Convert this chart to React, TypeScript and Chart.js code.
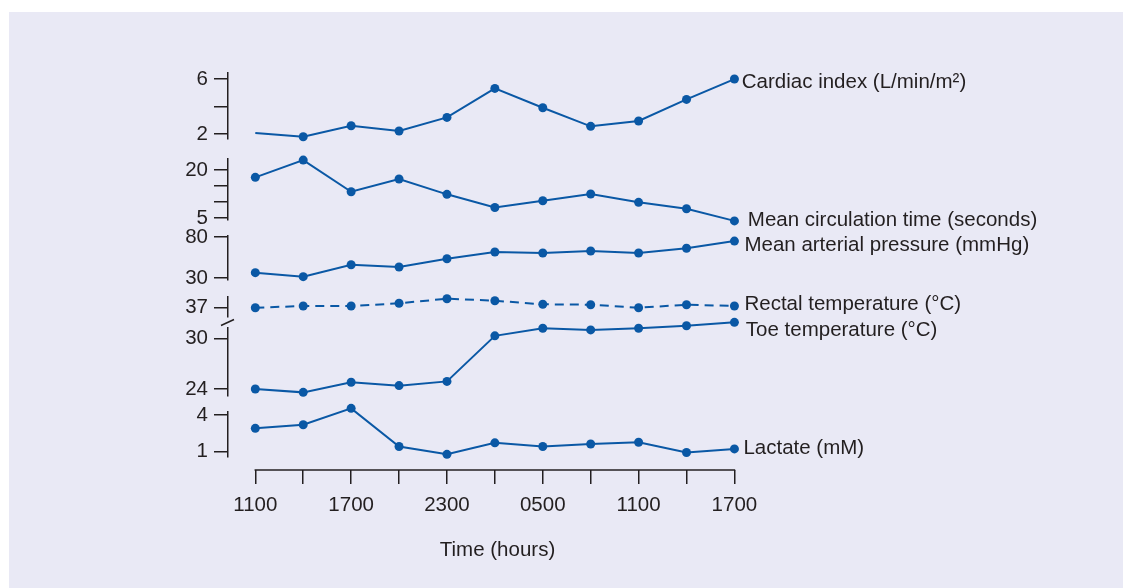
import React, { useEffect, useRef } from 'react';
import { Chart, registerables } from 'chart.js';

Chart.register(...registerables);

// ---------- data ----------
const times = ['1100', '1400', '1700', '2000', '2300', '0200', '0500', '0800', '1100', '1400', '1700'];

const cardiacIndex = [2.07, 1.8, 2.6, 2.22, 3.21, 5.32, 3.91, 2.56, 2.95, 4.52, 6.0];
const circulationTime = [17.7, 23.1, 13.2, 17.2, 12.4, 8.3, 10.4, 12.5, 9.9, 7.9, 4.1];
const arterialPressure = [36.5, 31.6, 46.2, 43.4, 53.5, 61.7, 60.5, 62.9, 60.5, 66.2, 75.0];
const rectalTemp = [36.96, 37.13, 37.13, 37.4, 37.86, 37.66, 37.3, 37.26, 36.96, 37.26, 37.13];
const toeTemp = [24.0, 23.6, 24.8, 24.4, 24.9, 30.3, 31.2, 31.0, 31.2, 31.5, 31.9];
const lactate = [2.9, 3.2, 4.55, 1.4, 0.75, 1.7, 1.4, 1.6, 1.75, 0.9, 1.2];

const seriesLabels = [
  'Cardiac index (L/min/m²)',
  'Mean circulation time (seconds)',
  'Mean arterial pressure (mmHg)',
  'Rectal temperature (°C)',
  'Toe temperature (°C)',
  'Lactate (mM)',
];

const cardiacTicks = [2, 4, 6];
const cardiacTickLabels = ['2', '', '6'];
const circTicks = [5, 10, 15, 20];
const circTickLabels = ['5', '', '', '20'];
const mapTicks = [30, 80];
const mapTickLabels = ['30', '80'];
const rectalTicks = [37];
const rectalTickLabels = ['37'];
const toeTicks = [24, 30];
const toeTickLabels = ['24', '30'];
const lactateTicks = [1, 4];
const lactateTickLabels = ['1', '4'];

// ---------- style / layout ----------
const BLUE = '#0a58a5';
const INK = '#231f20';
const BG = '#e9e9f5';
const FONT_FAMILY = "'Liberation Sans', Arial, sans-serif";
const FONT_SIZE = 20.5;

// label offsets relative to each series' last point
const LABEL_DX = [7.4, 13.4, 10, 10, 11.4, 9];
const LABEL_DY = [9.3, 4.7, 9.7, 4, 13.4, 5.3];

const font = { family: FONT_FAMILY, size: FONT_SIZE };

function dataAxis(
  ticks: number[],
  labels: string[],
  min: number,
  max: number,
  weight: number,
  stackWeight: number
): any {
  return {
    type: 'linear',
    position: 'left',
    stack: 'v',
    stackWeight,
    weight,
    min,
    max,
    afterBuildTicks: (s: any) => {
      s.ticks = ticks.map((v) => ({ value: v }));
    },
    afterFit: (s: any) => {
      s.width = 60;
    },
    border: { display: true, color: INK, width: 1.5 },
    grid: { drawOnChartArea: false, drawTicks: true, tickLength: 14, color: INK, lineWidth: 1.5 },
    ticks: {
      autoSkip: false,
      padding: 6,
      color: INK,
      font,
      callback: (v: number) => {
        const i = ticks.indexOf(v);
        return i >= 0 ? labels[i] : '';
      },
    },
  };
}

function spacer(weight: number, stackWeight: number): any {
  return { type: 'linear', position: 'left', stack: 'v', stackWeight, weight, display: false };
}

const pts = (arr: number[]) => arr.map((v, i) => ({ x: i, y: v }));

const decorPlugin = {
  id: 'decor',
  afterDatasetsDraw(chart: any) {
    const ctx = chart.ctx as CanvasRenderingContext2D;
    const xs = chart.scales.x;
    const yBase = chart.chartArea.bottom;
    ctx.save();
    ctx.strokeStyle = INK;
    ctx.lineWidth = 1.5;
    // horizontal time axis line from first to last time point
    ctx.beginPath();
    ctx.moveTo(xs.getPixelForValue(0) - 0.75, yBase);
    ctx.lineTo(xs.getPixelForValue(times.length - 1) + 0.75, yBase);
    ctx.stroke();
    // axis break mark between rectal and toe temperature axes
    const r = chart.scales.yRectal;
    const t = chart.scales.yToe;
    const bx = r.right;
    const by = (r.bottom + t.top) / 2;
    ctx.beginPath();
    ctx.moveTo(bx - 7, by + 3);
    ctx.lineTo(bx + 6, by - 3);
    ctx.stroke();
    // series labels at the right end
    ctx.fillStyle = INK;
    ctx.font = `${FONT_SIZE}px ${FONT_FAMILY}`;
    ctx.textAlign = 'left';
    ctx.textBaseline = 'alphabetic';
    chart.data.datasets.forEach((ds: any, i: number) => {
      const meta = chart.getDatasetMeta(i);
      const p = meta.data[meta.data.length - 1];
      ctx.fillText(ds.label, p.x + LABEL_DX[i], p.y + LABEL_DY[i]);
    });
    ctx.restore();
  },
};

export default function App() {
  const ref = useRef<HTMLCanvasElement>(null);

  useEffect(() => {
    const common = {
      borderColor: BLUE,
      backgroundColor: BLUE,
      pointBackgroundColor: BLUE,
      pointBorderWidth: 0,
      pointRadius: 4.5,
      borderWidth: 2,
      tension: 0,
      clip: false as any,
    };
    const chart = new Chart(ref.current as HTMLCanvasElement, {
      type: 'line',
      data: {
        datasets: [
          {
            ...common,
            label: seriesLabels[0],
            data: pts(cardiacIndex),
            yAxisID: 'yCardiac',
            pointRadius: (c: any) => (c.dataIndex === 0 ? 0 : 4.5),
          },
          { ...common, label: seriesLabels[1], data: pts(circulationTime), yAxisID: 'yCirc' },
          { ...common, label: seriesLabels[2], data: pts(arterialPressure), yAxisID: 'yMap' },
          { ...common, label: seriesLabels[3], data: pts(rectalTemp), yAxisID: 'yRectal', borderDash: [9, 6] },
          { ...common, label: seriesLabels[4], data: pts(toeTemp), yAxisID: 'yToe' },
          { ...common, label: seriesLabels[5], data: pts(lactate), yAxisID: 'yLactate' },
        ] as any,
      },
      options: {
        animation: false,
        responsive: false,
        events: [],
        layout: { padding: { left: 159, right: 356, top: 61, bottom: 18 } },
        plugins: { legend: { display: false }, tooltip: { enabled: false } },
        scales: {
          x: {
            type: 'linear',
            position: 'bottom',
            min: -0.57,
            max: 10.68,
            afterBuildTicks: (s: any) => {
              s.ticks = times.map((_, i) => ({ value: i }));
            },
            afterFit: (s: any) => {
              s.height = 100;
            },
            border: { display: false },
            grid: { drawOnChartArea: false, drawTicks: true, tickLength: 14, color: INK, lineWidth: 1.5 },
            ticks: {
              autoSkip: false,
              maxRotation: 0,
              padding: 9,
              color: INK,
              font,
              callback: (v: number) => (v % 2 === 0 ? times[v] : ''),
            },
            title: {
              display: true,
              text: 'Time (hours)',
              color: INK,
              font,
              padding: { top: 0, bottom: 7 },
            },
          },
          yCardiac: dataAxis(cardiacTicks, cardiacTickLabels, 1.64, 6.44, 12, 66),
          gap1: spacer(11, 20),
          yCirc: dataAxis(circTicks, circTickLabels, 4.38, 23.44, 10, 61),
          gap2: spacer(9, 16),
          yMap: dataAxis(mapTicks, mapTickLabels, 27.56, 81.2, 8, 44),
          gap3: spacer(7, 17),
          yRectal: dataAxis(rectalTicks, rectalTickLabels, 36.03, 38.03, 6, 20),
          gap4: spacer(5, 11),
          yToe: dataAxis(toeTicks, toeTickLabels, 23.17, 31.23, 4, 68),
          gap5: spacer(3, 16),
          yLactate: dataAxis(lactateTicks, lactateTickLabels, 0.53, 4.25, 2, 45),
          gap6: spacer(1, 13),
        } as any,
      },
      plugins: [decorPlugin],
    });
    return () => chart.destroy();
  }, []);

  return (
    <div
      style={{
        position: 'absolute',
        left: 9,
        top: 12,
        width: 1114,
        height: 576,
        background: BG,
      }}
    >
      <canvas ref={ref} width={1114} height={576} style={{ display: 'block', width: 1114, height: 576 }} />
    </div>
  );
}
